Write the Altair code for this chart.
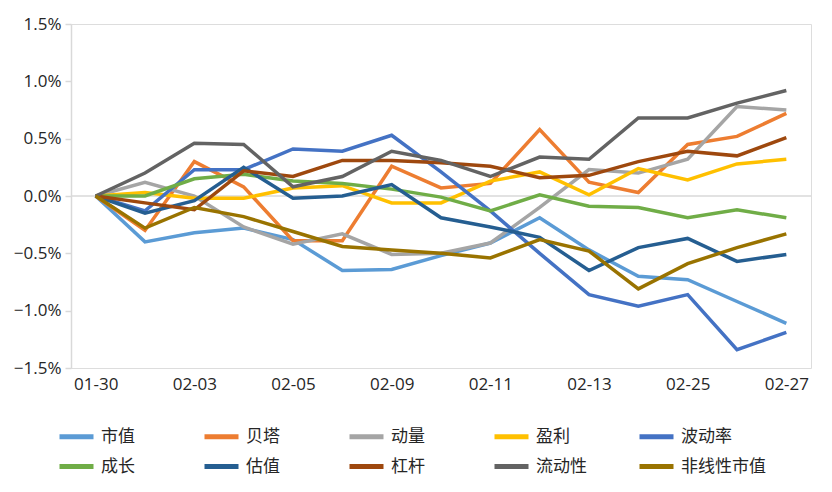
import altair as alt
import pandas as pd

dates = ["01-30", "02-02", "02-03", "02-04", "02-05", "02-06", "02-09", "02-10",
         "02-11", "02-12", "02-13", "02-24", "02-25", "02-26", "02-27"]

names = ["市值", "贝塔", "动量", "盈利", "波动率", "成长", "估值", "杠杆", "流动性", "非线性市值"]
colors = ["#5B9BD5", "#ED7D31", "#A5A5A5", "#FFC000", "#4472C4",
          "#70AD47", "#255E91", "#9E480E", "#636363", "#997300"]

# values in percent
shizhi = [0, -0.40, -0.32, -0.28, -0.38, -0.65, -0.64, -0.52, -0.41, -0.19, -0.47, -0.70, -0.73, -0.92, -1.11]
beta = [0, -0.30, 0.30, 0.08, -0.39, -0.39, 0.26, 0.07, 0.11, 0.58, 0.12, 0.03, 0.45, 0.52, 0.72]
dongliang = [0, 0.12, 0.00, -0.27, -0.42, -0.33, -0.51, -0.50, -0.41, -0.10, 0.23, 0.20, 0.32, 0.78, 0.75]
yingli = [0, 0.03, -0.02, -0.02, 0.07, 0.09, -0.06, -0.06, 0.13, 0.21, 0.01, 0.24, 0.14, 0.28, 0.32]
bodonglv = [0, -0.13, 0.23, 0.23, 0.41, 0.39, 0.53, 0.21, -0.13, -0.50, -0.86, -0.96, -0.86, -1.34, -1.19]
chengzhang = [0, 0.00, 0.15, 0.19, 0.13, 0.11, 0.06, -0.01, -0.13, 0.01, -0.09, -0.10, -0.19, -0.12, -0.19]
guzhi = [0, -0.15, -0.04, 0.25, -0.02, 0.00, 0.10, -0.19, -0.27, -0.36, -0.65, -0.45, -0.37, -0.57, -0.51]
ganggan = [0, -0.06, -0.12, 0.22, 0.17, 0.31, 0.31, 0.29, 0.26, 0.16, 0.18, 0.30, 0.39, 0.35, 0.51]
liudongxing = [0, 0.20, 0.46, 0.45, 0.08, 0.17, 0.39, 0.31, 0.17, 0.34, 0.32, 0.68, 0.68, 0.81, 0.92]
feixianxing = [0, -0.28, -0.10, -0.18, -0.31, -0.44, -0.47, -0.50, -0.54, -0.38, -0.48, -0.81, -0.59, -0.45, -0.33]

series = [shizhi, beta, dongliang, yingli, bodonglv, chengzhang, guzhi, ganggan, liudongxing, feixianxing]

rows = []
for n, vals in zip(names, series):
    for i, (d, v) in enumerate(zip(dates, vals)):
        rows.append({"date": d, "name": n, "value": v / 100.0, "order": i})
df = pd.DataFrame(rows)

FONT = "Noto Sans CJK SC"
NUMFONT = "Open Sans"

x = alt.X("date:O", sort=dates, scale=alt.Scale(type="point", padding=0.5),
          axis=alt.Axis(values=dates[::2], labelAngle=0, title=None, domain=False, ticks=False,
                        labelFontSize=17, labelColor="#262626", labelFont=NUMFONT, labelPadding=8))
yaxis = alt.Axis(format=".1%", values=[-0.015, -0.01, -0.005, 0, 0.005, 0.01, 0.015],
                 title=None, grid=False, domainColor="#D9D9D9", tickColor="#D9D9D9",
                 tickSize=6, labelFontSize=17, labelColor="#262626", labelFont=NUMFONT,
                 labelPadding=4, domainWidth=1.5, tickWidth=1.5)
yscale = alt.Scale(domain=[-0.015, 0.015], nice=False)

zero = alt.Chart(pd.DataFrame({"value": [0.0]})).mark_rule(color="#D9D9D9", size=1.5).encode(
    y=alt.Y("value:Q", scale=yscale, axis=yaxis))

lines = alt.Chart(df).mark_line(strokeWidth=3.5).encode(
    x=x, y=alt.Y("value:Q", scale=yscale, axis=yaxis),
    order="order:Q",
    color=alt.Color("name:N", sort=names,
                    scale=alt.Scale(domain=names, range=colors),
                    legend=alt.Legend(title=None, orient="none", legendX=-14, legendY=393,
                                      direction="horizontal", columns=5, gridAlign="all",
                                      symbolType="stroke", symbolSize=1156, symbolStrokeWidth=5,
                                      labelFontSize=17, labelFont=FONT, labelColor="#262626",
                                      columnPadding=8, rowPadding=-9, labelOffset=5)),
)

chart = alt.layer(zero, lines).properties(
    width=740, height=344,
    padding={"left": 5, "top": 7, "right": 8, "bottom": 5},
).configure_view(stroke=None).configure(background="white")

chart.save("out.html", embed_options={"renderer": "svg", "actions": False})
